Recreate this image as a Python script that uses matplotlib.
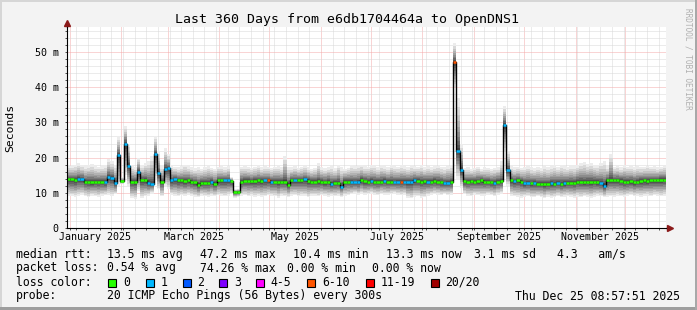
import datetime
import numpy as np
import matplotlib
matplotlib.use('Agg')
import matplotlib.pyplot as plt
import matplotlib.dates as mdates
from matplotlib.ticker import MultipleLocator, FuncFormatter, NullFormatter
from matplotlib.patches import Rectangle

W, H = 697, 310
MONO = 'DejaVu Sans Mono'

# time range of the graph, one value every 2 days
start = datetime.datetime(2024, 12, 30, 8, 57, 51)
end = datetime.datetime(2025, 12, 25, 8, 57, 51)
step_days = 2

# median rtt (ms) per step
median = [
    13.8, 13.8, 13.6, 13.9, 13.9, 13.2, 13.2, 13.0, 13.2, 13.1,
    13.2, 13.0, 14.6, 14.2, 12.7, 20.7, 13.3, 24.0, 17.7, 13.2,
    13.2, 16.0, 13.6, 13.6, 12.9, 12.5, 21.0, 15.5, 13.2, 16.7,
    17.0, 13.5, 13.8, 13.5, 13.5, 13.3, 13.5, 13.2, 13.0, 12.2,
    12.9, 12.9, 12.9, 13.2, 12.5, 13.5, 13.5, 13.5, 13.5, 13.3,
    10.3, 10.3, 13.2, 13.4, 13.4, 13.3, 13.4, 13.5, 13.4, 13.5,
    13.6, 13.2, 13.2, 13.1, 13.2, 13.2, 12.3, 13.6, 13.6, 13.7,
    13.6, 13.8, 13.4, 13.2, 13.2, 13.3, 13.2, 13.0, 13.2, 12.5,
    12.9, 12.9, 11.7, 13.2, 13.2, 13.0, 13.0, 13.0, 13.6, 13.3,
    13.2, 13.3, 13.2, 13.1, 13.2, 13.4, 13.2, 13.2, 13.0, 13.1,
    13.1, 13.1, 13.1, 13.1, 13.6, 13.4, 13.2, 13.3, 13.2, 13.2,
    13.4, 13.2, 13.0, 12.7, 12.8, 13.0, 47.2, 22.0, 16.5, 13.3,
    13.2, 13.4, 13.2, 13.3, 13.5, 13.2, 13.2, 13.0, 12.9, 13.2,
    13.3, 29.3, 16.5, 13.5, 13.3, 13.5, 13.2, 12.7, 12.8, 12.7,
    12.8, 12.5, 12.6, 12.4, 12.5, 12.7, 12.6, 12.8, 12.6, 12.7,
    12.8, 12.9, 12.8, 13.2, 13.2, 13.0, 13.2, 13.1, 13.2, 13.0,
    12.8, 12.0, 13.6, 13.7, 13.6, 13.6, 13.4, 13.2, 13.2, 13.3,
    13.0, 13.2, 13.4, 13.5, 13.3, 13.6, 13.5, 13.6, 13.7, 13.7,
]

# top and bottom of the smoke (slowest / fastest ping, ms)
smoke_hi = [
    17.8, 17.6, 18.0, 18.4, 17.9, 17.5, 17.8, 18.3, 17.6, 17.4,
    17.5, 17.8, 19.5, 19.0, 18.0, 26.0, 14.5, 29.0, 24.0, 17.5,
    17.2, 20.0, 17.8, 18.5, 19.0, 20.5, 26.0, 22.0, 17.6, 22.7,
    21.0, 17.8, 17.4, 17.2, 17.5, 18.0, 17.6, 17.2, 17.0, 17.3,
    16.8, 17.2, 17.6, 17.0, 16.9, 17.3, 17.5, 17.2, 17.6, 14.5,
    11.0, 11.2, 17.4, 17.6, 17.3, 17.1, 17.4, 17.8, 17.2, 17.5,
    17.3, 17.0, 17.4, 17.6, 17.2, 20.5, 17.4, 17.2, 17.5, 17.0,
    17.3, 17.6, 17.2, 16.9, 17.1, 18.4, 17.2, 17.0, 17.3, 17.6,
    17.0, 18.0, 17.2, 16.9, 17.1, 17.8, 17.5, 17.9, 18.0, 17.6,
    17.4, 17.9, 17.7, 17.3, 17.8, 17.6, 17.2, 17.9, 17.5, 17.4,
    17.8, 17.6, 17.3, 17.7, 17.5, 17.4, 17.8, 17.2, 17.6, 17.3,
    17.5, 17.7, 17.4, 17.2, 17.6, 17.9, 52.6, 37.0, 24.0, 17.0,
    17.2, 16.8, 17.0, 17.4, 16.9, 17.2, 17.0, 16.8, 17.1, 17.3,
    19.0, 34.7, 22.0, 17.5, 17.2, 17.4, 17.0, 17.3, 17.6, 17.2,
    17.0, 17.4, 17.1, 17.5, 17.2, 17.6, 18.0, 17.4, 17.8, 17.6,
    17.3, 17.7, 17.5, 18.0, 18.4, 18.8, 18.2, 18.5, 18.0, 17.8,
    18.6, 19.0, 17.5, 21.0, 17.4, 17.6, 17.2, 17.8, 17.4, 17.5,
    17.2, 17.6, 17.3, 17.4, 17.7, 17.3, 17.5, 17.2, 17.4, 17.6,
]
smoke_lo = [
    9.2, 9.0, 8.8, 9.1, 9.3, 9.0, 8.7, 9.2, 9.0, 8.8,
    9.1, 9.3, 9.5, 9.2, 9.6, 12.0, 12.5, 15.0, 12.0, 8.5,
    8.2, 10.5, 8.6, 9.0, 9.2, 9.8, 14.0, 11.0, 9.0, 12.0,
    11.0, 9.4, 9.2, 9.0, 9.3, 9.1, 9.4, 9.2, 8.9, 8.7,
    9.2, 9.0, 8.8, 9.2, 9.0, 9.3, 9.1, 9.0, 9.2, 9.6,
    8.6, 8.8, 9.2, 9.3, 9.0, 9.2, 8.9, 9.1, 8.8, 9.0,
    9.3, 9.1, 9.0, 8.6, 9.2, 9.0, 8.8, 9.1, 9.3, 9.0,
    9.2, 9.0, 8.7, 9.1, 9.2, 9.0, 9.3, 9.1, 8.9, 9.2,
    9.0, 9.2, 8.9, 9.1, 9.3, 9.6, 9.8, 9.5, 9.7, 9.4,
    9.6, 9.8, 9.5, 9.3, 9.7, 9.5, 9.4, 9.6, 9.8, 9.5,
    9.3, 9.5, 8.6, 8.4, 8.8, 9.0, 8.5, 8.7, 9.2, 9.4,
    9.6, 9.5, 9.3, 9.6, 9.4, 9.5, 40.0, 14.0, 11.5, 9.6,
    9.2, 9.0, 9.4, 9.3, 9.1, 9.2, 9.4, 9.3, 9.0, 9.5,
    9.8, 22.0, 12.0, 9.2, 9.0, 8.8, 8.6, 8.9, 9.1, 8.8,
    8.7, 9.0, 8.8, 8.5, 8.9, 8.6, 8.8, 9.0, 8.7, 8.9,
    9.1, 8.8, 8.6, 8.9, 8.7, 9.0, 8.8, 8.6, 8.9, 9.1,
    9.0, 8.7, 8.8, 9.0, 8.9, 9.2, 9.0, 8.8, 9.1, 9.3,
    9.0, 9.2, 8.9, 9.1, 9.2, 9.0, 9.3, 9.1, 9.0, 9.2,
]

# loss class per step (index into loss_labels)
loss = [0] * 180
for i in [3, 4, 11, 12, 13, 14, 15, 17, 18, 21, 24, 25, 26, 27, 29, 30, 31, 32,
          43, 47, 48, 59, 61, 68, 71, 79, 82, 85, 86, 87, 91, 95, 98, 99, 101,
          102, 103, 104, 108, 113, 114, 117, 118, 128, 131, 132, 134, 137, 138,
          140, 145, 147, 149, 160, 161]:
    loss[i] = 1
for i in [60, 100, 116]:
    loss[i] = 5

loss_labels = ['0', '1', '2', '3', '4-5', '6-10', '11-19', '20/20']
loss_colors = ['#26ff00', '#00b8ff', '#0059ff', '#7e00ff', '#ff00ff',
               '#ff5500', '#ff0000', '#a00000']

title = 'Last 360 Days from e6db1704464a to OpenDNS1'
stats_rtt = ['median rtt:', '13.5 ms avg', '47.2 ms max', '10.4 ms min',
             '13.3 ms now', '3.1 ms sd', '4.3   am/s']
stats_loss = ['packet loss:', '0.54 % avg', '74.26 % max', '0.00 % min',
              '0.00 % now']
probe_text = '20 ICMP Echo Pings (56 Bytes) every 300s'
stamp = 'Thu Dec 25 08:57:51 2025'
month_labels = ['January 2025', 'March 2025', 'May 2025', 'July 2025',
                'September 2025', 'November 2025']


def px(x, y):
    return x / W, 1 - y / H


fig = plt.figure(figsize=(W / 100, H / 100), dpi=100, facecolor='#f3f3f3')

# frame shading
fig.patches.append(Rectangle((0, 1 - 2 / H), 1, 2 / H, transform=fig.transFigure, color='#d6d6d6', lw=0))
fig.patches.append(Rectangle((0, 0), 2 / W, 1, transform=fig.transFigure, color='#d6d6d6', lw=0))
fig.patches.append(Rectangle((0, 0), 1, 3 / H, transform=fig.transFigure, color='#9e9e9e', lw=0))
fig.patches.append(Rectangle((1 - 2 / W, 0), 2 / W, 1, transform=fig.transFigure, color='#a8a8a8', lw=0))

ax = fig.add_axes([67 / W, 82 / H, 599 / W, 200.6 / H])
ax.set_facecolor('white')

t = [start + datetime.timedelta(days=step_days * i) for i in range(len(median) + 1)]
x = mdates.date2num(t)
med = np.append(median, median[-1])
hi = np.append(smoke_hi, smoke_hi[-1])
lo = np.append(smoke_lo, smoke_lo[-1])

# smoke: 10 shades above and below the median, darkest next to it
fr_up = [0, 0.05, 0.11, 0.18, 0.26, 0.35, 0.45, 0.56, 0.68, 0.83, 1.0]
fr_dn = [0, 0.08, 0.17, 0.26, 0.36, 0.46, 0.56, 0.67, 0.78, 0.89, 1.0]
for k in range(10):
    g = int(0x40 + (0xec - 0x40) * k / 9)
    c = '#%02x%02x%02x' % (g, g, g)
    ax.fill_between(x, med + (hi - med) * fr_up[k], med + (hi - med) * fr_up[k + 1],
                    step='post', color=c, lw=0, antialiased=False, zorder=1)
    ax.fill_between(x, med - (med - lo) * fr_dn[k], med - (med - lo) * fr_dn[k + 1],
                    step='post', color=c, lw=0, antialiased=False, zorder=1)

# median line, coloured by loss
ax.step(x, med, where='post', color='black', lw=1.0, zorder=3)
ax.hlines(median, x[:-1], x[1:], colors=[loss_colors[l] for l in loss],
          lw=1.8, zorder=4)

ax.set_xlim(mdates.date2num(start), mdates.date2num(end))
ax.set_ylim(0, 57)

ax.xaxis.set_major_locator(mdates.MonthLocator())
ax.xaxis.set_minor_locator(mdates.WeekdayLocator(byweekday=mdates.SU))
ax.xaxis.set_major_formatter(NullFormatter())
ax.yaxis.set_major_locator(MultipleLocator(10))
ax.yaxis.set_minor_locator(MultipleLocator(2))
ax.yaxis.set_major_formatter(FuncFormatter(lambda v, p: '0' if v == 0 else '%d m' % v))

ax.set_axisbelow(True)
ax.grid(which='minor', color='#d9d9d9', lw=0.72, ls=(0, (1, 1)))
ax.grid(which='major', color='#f5aaaa', lw=0.72, ls=(0, (1, 1)))

ax.tick_params(which='both', direction='out', length=1.5, width=0.72, color='#555555')
ax.tick_params(axis='y', labelsize=7.2, pad=4.5, labelfontfamily=MONO)
for s in ['top', 'right']:
    ax.spines[s].set_visible(False)
for s in ['left', 'bottom']:
    ax.spines[s].set_linewidth(0.8)
    ax.spines[s].set_color('black')
    ax.spines[s].set_zorder(5)

# axis arrows
x0, x1 = ax.get_xlim()
ax.plot([x0, x0], [57, 58.3], color='black', lw=0.8, clip_on=False)
ax.plot([x0], [58.3], marker='^', ms=4.5, color='#8b1a1a', clip_on=False, zorder=5)
ax.plot([x1, x1 + 2], [0, 0], color='black', lw=0.8, clip_on=False)
ax.plot([x1 + 2.5], [0], marker='>', ms=4.5, color='#8b1a1a', clip_on=False, zorder=5)

# month labels at mid-month
months = [datetime.datetime(2025, m, 1) for m in (1, 3, 5, 7, 9, 11)]
for m0, lab in zip(months, month_labels):
    m1 = datetime.datetime(2025 + (m0.month == 12), m0.month % 12 + 1, 1)
    mid = mdates.date2num(m0) + (mdates.date2num(m1) - mdates.date2num(m0)) / 2
    ax.text(mid, -9.5 / 3.52, lab, ha='center', va='center', fontsize=7.2,
            family=MONO, transform=ax.transData, clip_on=False)

fig.text(*px(10.5, 128), 'Seconds', rotation=90, ha='center', va='center',
         fontsize=8.2, family=MONO)
fig.text(*px(347, 19), title, ha='center', va='center', fontsize=9.5, family=MONO)
fig.text(*px(688, 59), 'RRDTOOL / TOBI OETIKER', rotation=270, ha='center',
         va='center', fontsize=5.6, family=MONO, color='#b0b0b0')

# legend
for s, xx in zip(stats_rtt, [16, 107.3, 200, 293.3, 386, 474, 557.3]):
    fig.text(*px(xx, 254.3), s, ha='left', va='center', fontsize=8.3, family=MONO)
for s, xx in zip(stats_loss, [16, 107.3, 200, 286.7, 372.5]):
    fig.text(*px(xx, 268), s, ha='left', va='center', fontsize=8.3, family=MONO)
fig.text(*px(16, 282), 'loss color:', ha='left', va='center', fontsize=8.3, family=MONO)
box_x = [108.3, 145.7, 182.7, 219.3, 256, 307.3, 365.7, 431]
for bx, lab, col in zip(box_x, loss_labels, loss_colors):
    fig.patches.append(Rectangle(px(bx, 286.5), 8 / W, 8 / H, transform=fig.transFigure,
                                 facecolor=col, edgecolor='black', lw=0.8))
    fig.text(*px(bx + 14.5, 282), lab, ha='left', va='center', fontsize=8.3, family=MONO)
fig.text(*px(16, 296), 'probe:', ha='left', va='center', fontsize=8.3, family=MONO)
fig.text(*px(107.3, 296), probe_text, ha='left', va='center', fontsize=8.3, family=MONO)
fig.text(*px(680, 296), stamp, ha='right', va='center', fontsize=8.3, family=MONO)

fig.savefig('out.png', dpi=100, facecolor=fig.get_facecolor())
